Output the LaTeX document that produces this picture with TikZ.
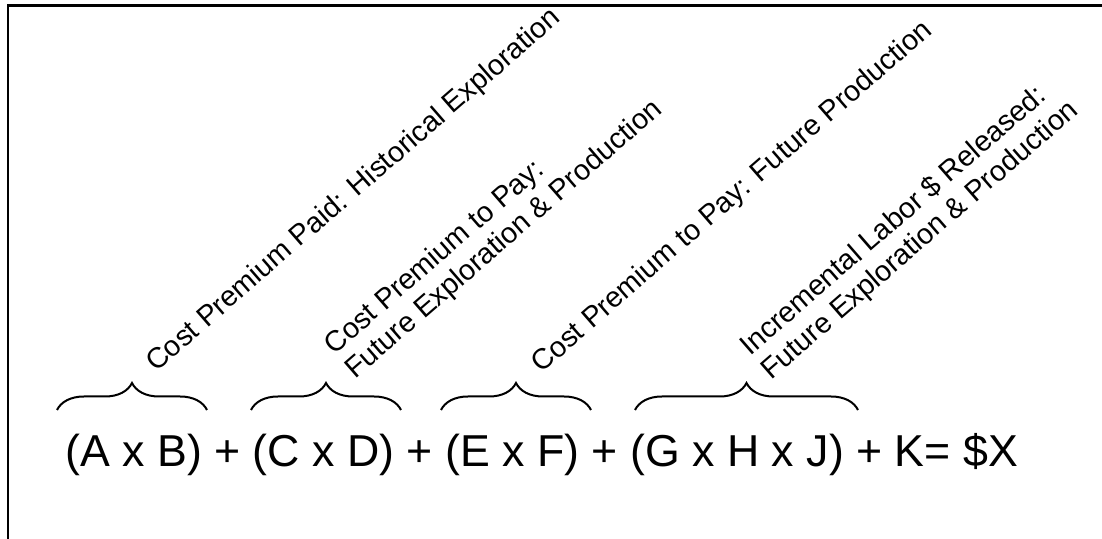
\documentclass[tikz,border=0pt]{standalone}
\usepackage{fontspec}
\setmainfont{Liberation Sans}
\usetikzlibrary{decorations.pathreplacing,positioning}

\begin{document}
\begin{tikzpicture}[
  x=0.5pt, y=0.5pt,
  frameline/.style={line width=1.2pt, draw=black},
  curly/.style={decorate, decoration={brace, amplitude=13.5pt}, line width=1pt},
  term/.style={rotate=41, anchor=base west, inner sep=0pt, align=left,
               font=\fontsize{14.4pt}{16pt}\selectfont},
  formula/.style={anchor=base west, inner sep=0pt,
                  font=\fontsize{22.35pt}{26pt}\selectfont}
]
  \useasboundingbox (0,0) rectangle (1102,539);
  \draw[frameline] (8,0) -- (8,533.5) -- (1102,533.5);

  % the sum
  \node[formula] (eq) at (65,72) {(A x B) + (C x D) + (E x F) + (G x H x J) + K= \$X};

  % braces over the terms
  \foreach \xa/\xb in {57/207, 251/401, 441/591, 635/858}
    \draw[curly] (\xa,129) -- (\xb,129);

  % slanted labels
  \node[term] (paid)  at (156,166) {Cost Premium Paid: Historical Exploration};
  \node[term] (topay) at (355,159) {Cost Premium to Pay:\\Future Exploration \& Production};
  \node[term] (prod)  at (541,165) {Cost Premium to Pay: Future Production};
  \node[term] (labor) at (771,158) {Incremental Labor \$ Released:\\Future Exploration \& Production};
\end{tikzpicture}
\end{document}
